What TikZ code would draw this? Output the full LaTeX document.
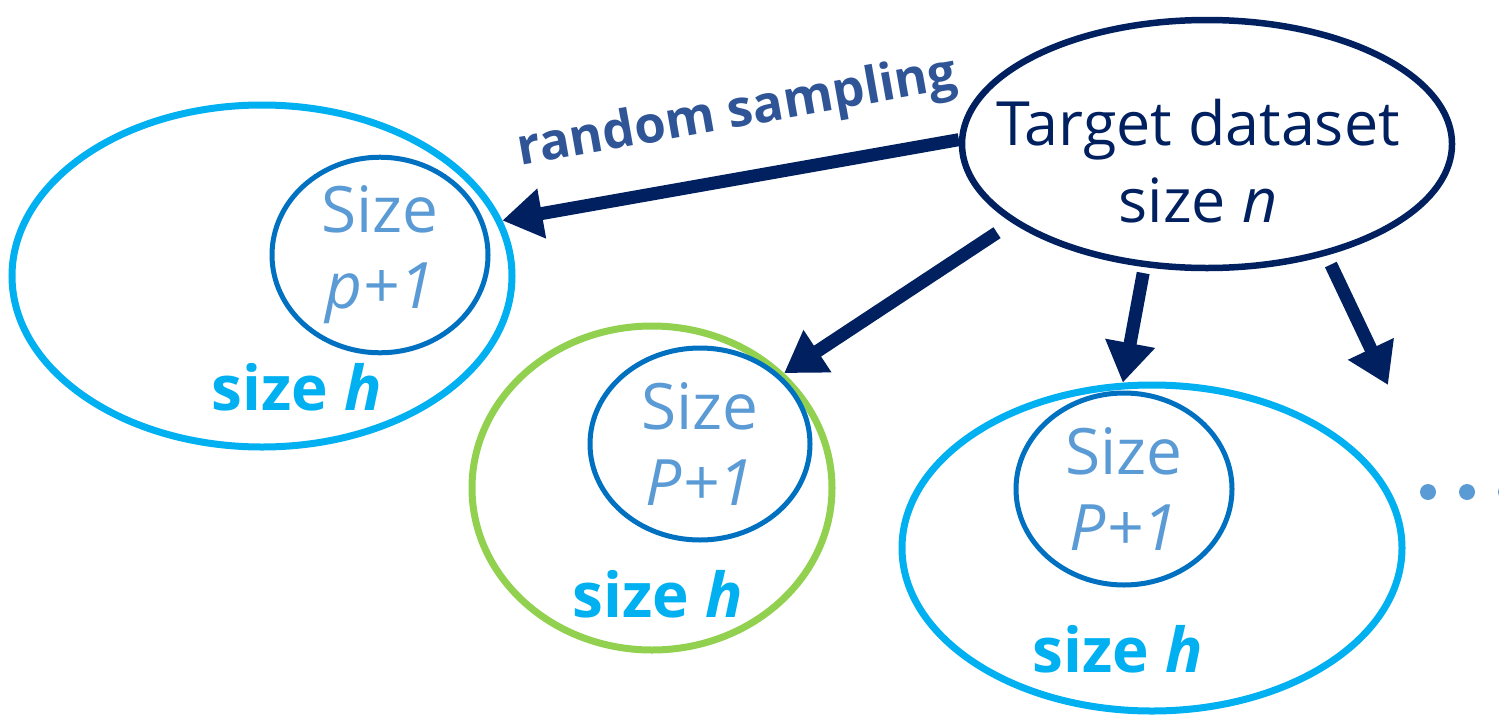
\documentclass[tikz,border=0pt]{standalone}
\usepackage{fontspec}
\setmainfont{Open Sans}
\usetikzlibrary{shapes.geometric,arrows.meta}
\definecolor{azulosc}{HTML}{002060}
\definecolor{celeste}{HTML}{00B0F0}
\definecolor{azulmed}{HTML}{0070C0}
\definecolor{azulcla}{HTML}{5B9BD5}
\definecolor{verde}{HTML}{92D050}
\definecolor{azultxt}{HTML}{2F5597}
\tikzset{
  conjunto/.style={ellipse, draw, line width=7pt, inner sep=0pt},
  muestra/.style={ellipse, draw=azulmed, line width=5pt, inner sep=0pt,
    text=azulcla, align=center, font=\fontsize{64}{76}\selectfont},
  tamh/.style={text=celeste, anchor=base, inner sep=0pt,
    font=\fontsize{62}{70}\selectfont\bfseries},
  flecha/.style={draw=azulosc, line width=13pt, -{Triangle[length=40pt,width=48pt]}},
}
\begin{document}
\begin{tikzpicture}[x=1pt, y=-1pt]
  \useasboundingbox (0,0) rectangle (1499,715);
  % el conjunto de partida, con su texto
  \node[conjunto, draw=azulosc, line width=6.5pt, minimum width=490pt, minimum height=248pt] (tgt) at (1207,144) {};
  \node[text=azulosc, align=center, font=\fontsize{61}{77}\selectfont] (tgttxt) at (1198,161) {Target dataset\\size \textit{n}};
  % los tres subconjuntos de tamano h
  \node[conjunto, draw=celeste, minimum width=500pt, minimum height=342pt] (big1) at (262,276) {};
  \node[conjunto, draw=verde, minimum width=360pt, minimum height=324pt] (big2) at (652,488) {};
  \node[conjunto, draw=celeste, minimum width=500pt, minimum height=326pt] (big3) at (1152,548) {};
  % las muestras de tamano p+1 dentro de cada uno
  \node[muestra, minimum width=216pt, minimum height=190pt] (sub1) at (380,255) {Size\\\textit{p+1}};
  \node[muestra, minimum width=220pt, minimum height=192pt] (sub2) at (700,444) {Size\\\textit{P+1}};
  \node[muestra, minimum width=216pt, minimum height=192pt] (sub3) at (1124,489) {Size\\\textit{P+1}};
  \node[tamh] (h1) at (297,410) {size \textit{h}};
  \node[tamh] (h2) at (658,617) {size \textit{h}};
  \node[tamh] (h3) at (1118,672) {size \textit{h}};
  % las flechas
  \coordinate (mas) at (1388,385);
  \draw[flecha] (tgt.179) -- (big1.13)
    node[pos=0.46, sloped, above=32pt, inner sep=0pt, text=azultxt,
      font=\fontsize{51}{60}\selectfont\bfseries] (rs) {random sampling};
  \draw[flecha, shorten <=18pt] (tgt.202) -- (big2.41);
  \draw[flecha, shorten <=6pt] (tgt.243) -- (big3.100);
  \draw[flecha, shorten <=10pt] (tgt.317) -- (mas);
  % los puntos suspensivos
  \foreach \x in {1428,1467,1506} {
    \fill[azulcla] (\x,492) circle (8pt);
  }
\end{tikzpicture}
\end{document}
